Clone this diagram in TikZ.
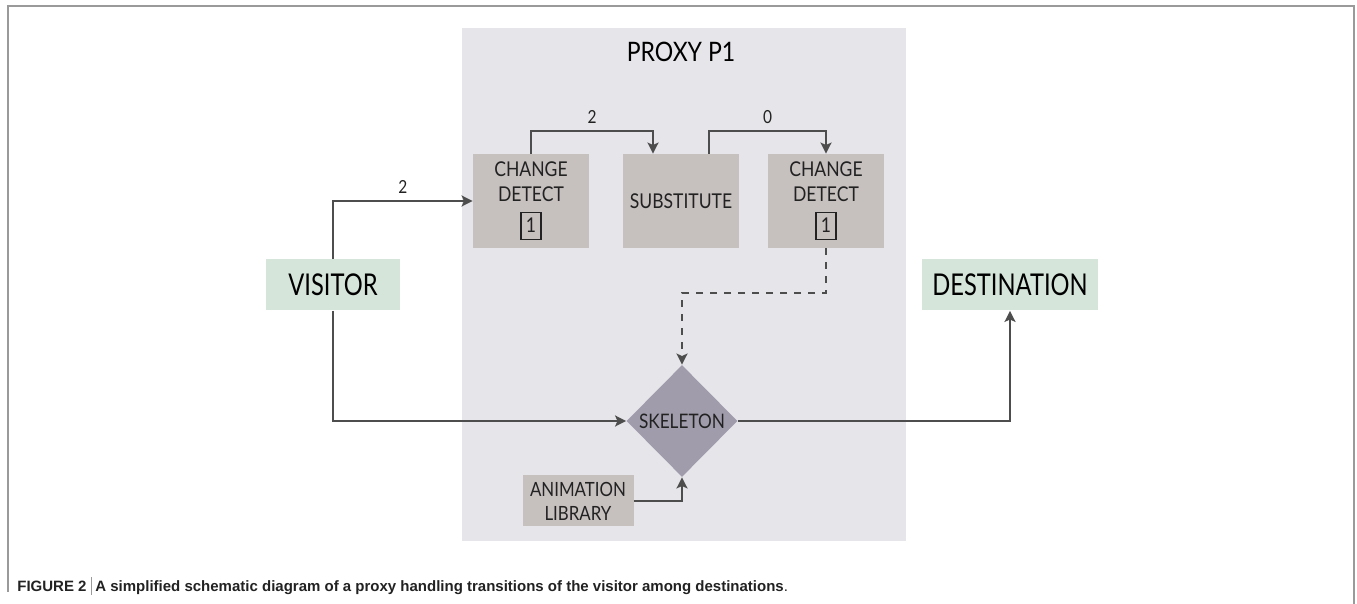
\documentclass[tikz,border=0pt]{standalone}
\usepackage{fontspec}
\setmainfont{Lato}[FakeStretch=0.86]
\newfontfamily\endfont{Lato}[FakeStretch=0.79]
\newfontfamily\capfont{Liberation Sans}
\usetikzlibrary{shapes.geometric,arrows.meta}

\definecolor{panelgray}{HTML}{E6E5EA}
\definecolor{boxgray}{HTML}{C6C0BF}
\definecolor{endgreen}{HTML}{D5E5DA}
\definecolor{skelgray}{HTML}{A09CAC}
\definecolor{linegray}{HTML}{4D4D4D}
\definecolor{framegray}{HTML}{9A9A9A}
\definecolor{inkgray}{HTML}{222222}

\newcommand\numbox[1]{{\setlength\fboxsep{2.2pt}\setlength\fboxrule{0.6pt}\fbox{\rule[-1pt]{0pt}{8.5pt}#1}}}

\tikzset{
  procbox/.style={fill=boxgray, text=inkgray, minimum width=58pt, minimum height=47pt,
    inner sep=0pt, align=center, font=\fontsize{10.2}{12.25}\selectfont},
  endbox/.style={fill=endgreen, text=black, minimum height=25.5pt, inner sep=0pt,
    font=\endfont\fontsize{15}{18}\selectfont},
  link/.style={draw=linegray, line width=1pt, -{Stealth[length=5.5pt,width=5.5pt,inset=1.2pt]}},
  numlabel/.style={text=inkgray, inner sep=3pt, font=\fontsize{9}{10}\selectfont},
}

\begin{document}
\begin{tikzpicture}[x=0.5pt, y=-0.5pt]
    \useasboundingbox (0,0) rectangle (1357,604);

    % frame and proxy panel
    \draw[framegray, line width=1pt] (8,592) -- (8,6) -- (1354,6) -- (1354,604);
    \fill[panelgray] (462,28) rectangle (906,541);
    \node[text=black, font=\fontsize{13.4}{15}\selectfont] (title) at (681,52) {PROXY P1};

    % boxes
    \node[procbox] (cd1) at (531,201) {CHANGE\\DETECT\\[3.5pt]\numbox{1}};
    \node[procbox] (sub) at (681,201) {SUBSTITUTE};
    \node[procbox] (cd2) at (826,201) {CHANGE\\DETECT\\[3.5pt]\numbox{1}};
    \node[endbox, minimum width=67pt] (visitor) at (333,285) {VISITOR};
    \node[endbox, minimum width=88pt] (dest) at (1010,285) {DESTINATION};
    \node[diamond, fill=skelgray, text=inkgray, inner sep=0pt, minimum width=55.5pt,
      minimum height=56pt, font=\fontsize{10}{12}\selectfont] (skel) at (682,421) {SKELETON};
    \node[procbox, minimum width=55.5pt, minimum height=25.5pt,
      font=\fontsize{9.8}{12}\selectfont] (anim) at (578,501) {ANIMATION\\LIBRARY};

    % connectors
    \draw[link] (visitor.north) |- node[pos=0.75, above, numlabel] {2} (cd1.west);
    \draw[link] (cd1.north) -- ++(0,-23) -| node[pos=0.25, above, numlabel] {2} ([xshift=-14pt]sub.north);
    \draw[link] ([xshift=14pt]sub.north) -- ++(0,-23) -| node[pos=0.25, above, numlabel] {0} (cd2.north);
    \draw[link, dash pattern=on 3.5pt off 3.5pt] (cd2.south) -- ++(0,45) -| (skel.north);
    \draw[link] (visitor.south) |- (skel.west);
    \draw[link] (skel.east) -| (dest.south);
    \draw[link] (anim.east) -| (skel.south);

    % caption
    \node[anchor=base west, inner sep=0pt, text=inkgray, font=\capfont\bfseries\fontsize{7.5}{9}\selectfont] (caption) at (17,592)
      {FIGURE 2\kern2pt{\color{framegray}\rule[-1.5pt]{0.4pt}{9pt}}\kern2pt A simplified schematic diagram of a proxy handling transitions of the visitor among destinations\mdseries.};
\end{tikzpicture}
\end{document}
